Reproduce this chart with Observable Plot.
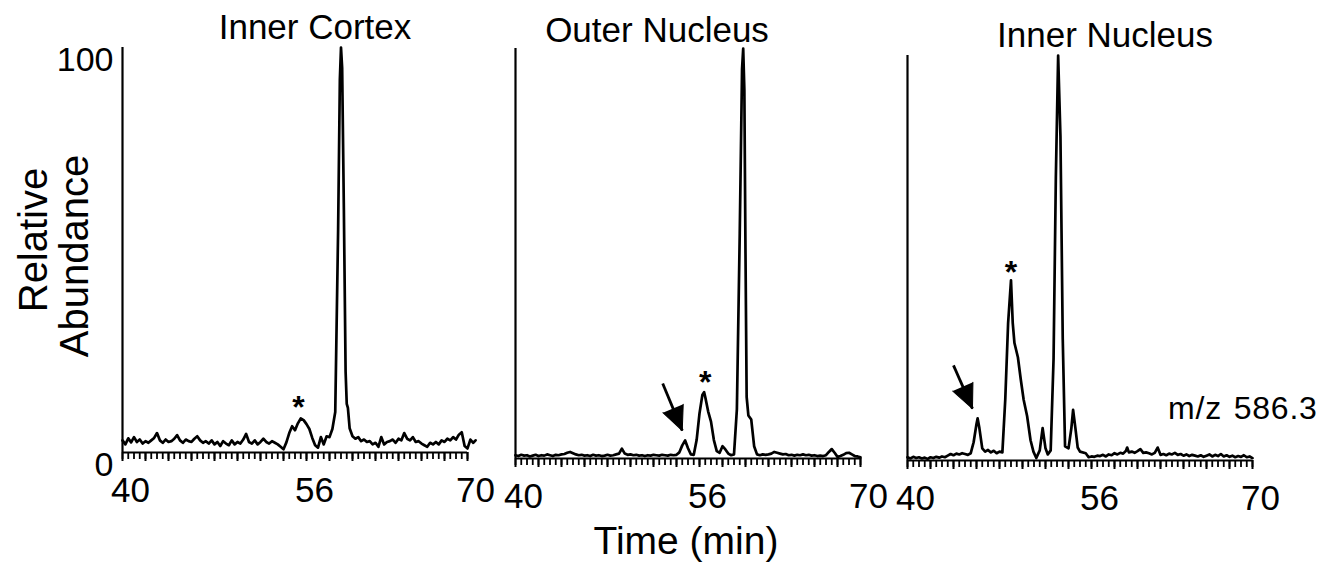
<!DOCTYPE html>
<html><head><meta charset="utf-8">
<script src="https://cdn.jsdelivr.net/npm/d3@7"></script>
<script src="https://cdn.jsdelivr.net/npm/@observablehq/plot@0.6"></script>
<style>
html,body{margin:0;padding:0;background:#fff;}
#wrap{position:relative;width:1340px;height:562px;overflow:hidden;background:#fff;font-family:"Liberation Sans",Arial,sans-serif;color:#000;}
.lbl{position:absolute;white-space:nowrap;line-height:1;}
</style></head><body><div id="wrap"></div>
<script>
// ---------- data ----------
const panelTitles = ["Inner Cortex", "Outer Nucleus", "Inner Nucleus"];
const xTickLabels = [40, 56, 70];
const yTickLabels = [0, 100];
const xAxisTitle = "Time (min)";
const yAxisTitle = ["Relative", "Abundance"];
const massLabel = "m/z 586.3";

const cortexTime = [40,40.25,40.5,40.75,41,41.25,41.5,41.75,42,42.25,42.5,42.75,43,43.25,43.5,43.75,44,44.25,44.5,44.75,45,45.25,45.5,45.75,46,46.25,46.5,46.75,47,47.25,47.5,47.75,48,48.25,48.5,48.75,49,49.25,49.5,49.75,50,50.25,50.5,50.75,51,51.25,51.5,51.75,52,52.25,52.5,52.75,53,53.25,53.5,53.75,54,54.25,54.5,54.75,55,55.25,55.5,55.75,56,56.25,56.5,56.75,57,57.25,57.5,57.75,58,58.25,58.5,58.75,58.9,59,59.1,59.25,59.4,59.5,59.6,59.75,60,60.25,60.5,60.75,61,61.25,61.5,61.75,62,62.25,62.5,62.75,63,63.25,63.5,63.75,64,64.25,64.5,64.75,65,65.25,65.5,65.75,66,66.25,66.5,66.75,67,67.25,67.5,67.75,68,68.25,68.5,68.75,69,69.25,69.5,69.75,70,70.25,70.5,70.7];
const cortexAbund = [3.0,2.0,3.5,2.5,3.8,2.6,3.2,2.2,2.8,2.4,3.0,3.6,4.8,3.0,2.4,3.2,2.6,2.8,3.4,4.3,3.0,2.4,3.2,2.8,2.6,3.4,4.0,3.0,2.4,2.8,2.2,3.0,2.0,2.6,1.6,2.8,2.2,1.8,3.0,2.0,2.6,2.2,3.2,4.6,2.6,2.2,3.0,2.0,2.6,3.4,2.6,2.2,2.8,2.4,2.0,1.4,0.8,2.5,4.8,6.5,5.5,7.2,8.4,8.0,7.0,5.8,3.6,1.8,1.2,3.8,2.0,4.0,3.8,5.8,10,55,92,100,95,60,20,12,11,6,4,3.4,3.8,2.8,3.2,2.6,2.8,2.0,2.4,1.4,3.8,2.0,2.6,2.8,3.2,2.4,3.4,3.0,4.8,3.4,3.0,3.8,2.6,2.8,2.2,1.8,1.4,2.4,2.0,2.6,2.0,3.0,2.6,3.4,3.0,3.8,3.2,4.4,5.0,1.6,1.0,3.2,2.4,3.0];

const outerTime = [40,40.25,40.5,40.75,41,41.25,41.5,41.75,42,42.25,42.5,42.75,43,43.25,43.5,43.75,44,44.25,44.5,44.75,45,45.25,45.5,45.75,46,46.25,46.5,46.75,47,47.25,47.5,47.75,48,48.25,48.5,48.75,49,49.25,49.5,49.75,50,50.25,50.5,50.75,51,51.25,51.5,51.75,52,52.25,52.5,52.75,53,53.25,53.5,53.75,54,54.25,54.5,54.75,55,55.25,55.5,55.75,56,56.25,56.4,56.5,56.75,57,57.25,57.5,57.75,58,58.25,58.5,58.75,59,59.25,59.5,59.7,59.8,59.9,60,60.1,60.25,60.5,60.75,61,61.25,61.5,61.75,62,62.25,62.5,62.75,63,63.25,63.5,63.75,64,64.25,64.5,64.75,65,65.25,65.5,65.75,66,66.25,66.5,66.75,67,67.25,67.5,67.75,68,68.25,68.5,68.75,69,69.25,69.5,69.75,70];
const outerAbund = [0.8,0.6,0.9,0.7,0.8,0.5,0.7,0.9,0.6,0.8,0.7,1.0,0.8,0.6,0.9,0.8,1.0,1.1,1.4,1.6,1.3,1.0,0.8,0.9,0.7,0.8,0.6,0.9,0.7,0.8,0.6,0.7,0.9,0.7,0.8,1.0,1.2,2.4,1.2,0.9,1.0,0.8,0.9,0.7,0.8,0.6,0.8,0.7,0.9,0.8,0.7,0.9,0.8,0.7,0.9,0.8,0.9,1.5,3.2,4.4,2.5,1.0,0.9,4.5,11.0,15.5,16.2,15.0,11.5,9.0,4.5,1.8,1.4,3.0,2.2,1.2,0.8,1.0,12,55,95,100,90,50,15,10.5,9.5,3,1.0,0.8,1.0,0.9,1.0,1.2,1.6,1.4,1.2,1.0,1.1,0.8,0.9,0.7,0.9,0.8,1.0,0.8,0.9,0.7,0.8,0.6,0.7,0.6,0.8,1.6,2.3,1.4,0.4,0.6,0.9,1.3,1.4,1.0,0.6,0.5,0.3];

const innerTime = [40,40.25,40.5,40.75,41,41.25,41.5,41.75,42,42.25,42.5,42.75,43,43.25,43.5,43.75,44,44.25,44.5,44.75,45,45.25,45.5,45.75,46,46.1,46.25,46.5,46.75,47,47.25,47.5,47.75,48,48.25,48.5,48.75,49,49.15,49.3,49.6,49.85,50.1,50.4,50.7,50.95,51.2,51.5,51.75,52,52.2,52.45,52.7,52.9,53.1,53.3,53.5,53.7,54,54.25,54.4,54.6,54.8,55,55.5,55.75,56,56.25,56.5,56.75,57,57.25,57.5,57.75,58,58.25,58.5,58.75,59,59.1,59.25,59.5,59.75,60,60.25,60.5,60.75,61,61.25,61.5,61.75,62,62.25,62.5,62.75,63,63.25,63.5,63.75,64,64.25,64.5,64.75,65,65.25,65.5,65.75,66,66.25,66.5,66.75,67,67.25,67.5,67.75,68,68.25,68.5,68.75,69,69.25,69.5,69.75,70];
const innerAbund = [0.8,0.5,0.9,0.6,0.8,0.5,0.7,0.4,0.8,0.6,0.9,0.7,1.0,0.8,1.2,1.6,1.3,1.7,1.5,1.8,1.6,1.4,1.8,4.5,9.0,10.4,8.0,3.0,2.2,2.6,2.0,2.4,1.8,2.2,2.0,15,34,44.5,34,29,25.5,20,15,11,5,2.2,0.6,2.5,8.0,3.0,1.5,2.5,25,70,100,80,30,3.5,3.0,8,12.5,8,3.2,2.2,1.8,0.8,1.0,0.9,1.2,1.1,1.4,1.0,1.5,1.3,1.8,1.5,1.9,1.7,2.4,3.2,2.0,2.2,1.9,2.3,2.8,1.9,2.0,1.8,1.5,1.9,3.2,1.4,1.6,1.3,1.7,1.5,1.9,1.4,1.6,1.2,1.5,1.1,1.4,1.2,1.0,1.3,0.9,1.2,1.5,1.0,1.4,1.1,1.6,1.0,1.3,0.9,1.2,0.8,1.1,0.9,1.3,0.8,1.0,0.6];

// annotations (data units: time, abundance)
const starTime = [55.3, 56.5, 49.0];
const starAbund = [13.3, 20.7, 48.6];
const arrowFrom = [null, [52.8, 18.3], [44.0, 23.5]];
const arrowTo   = [null, [54.5, 6.8], [45.65, 12.8]];

// ---------- layout ----------
const wrap = document.getElementById("wrap");
const panelLeft = [0, 393, 785];
const panelTop = [47, 48, 55];
const panelBottom = [452, 458, 460];
const series = [[cortexTime, cortexAbund], [outerTime, outerAbund], [innerTime, innerAbund]];
const minorTicks = d3.range(40, 70.001, 0.5);
const longTicks = d3.range(40, 70.001, 2);
const H = 530, W = 480, ML = 122, MR = 13;

series.forEach(([T, V], i) => {
  const data = T.map((t, k) => ({t, v: V[k]}));
  const marks = [
    Plot.axisX(minorTicks, {tickSize: 7, tickFormat: () => "", strokeWidth: 1.8, label: null}),
    Plot.axisX(longTicks, {tickSize: 9, tickFormat: () => "", strokeWidth: 2, label: null}),
    Plot.axisX(xTickLabels, {tickSize: 0, tickPadding: 25, fontSize: 35, dx: 8, label: null}),
    Plot.ruleY([0], {strokeWidth: 2.2}),
    Plot.ruleX([40], {y1: 0, y2: 100, strokeWidth: 2.2}),
    Plot.line(data, {x: "t", y: "v", strokeWidth: 2.7, stroke: "black", strokeLinejoin: "round"}),
    Plot.text([{t: starTime[i], v: starAbund[i]}], {x: "t", y: "v", text: () => "*", fontSize: 32, fontWeight: "bold", dy: 9})
  ];
  if (i === 0) {
    marks.push(Plot.axisY(yTickLabels, {tickSize: 0, tickPadding: 9, fontSize: 34, dy: 13, label: null}));
  } else {
    marks.push(Plot.axisY([], {label: null}));
  }
  if (arrowFrom[i]) {
    const pxPerMin = (W - ML - MR) / 30;
    const pxPerUnit = (panelBottom[i] - panelTop[i]) / 100;
    const dxp = (arrowTo[i][0] - arrowFrom[i][0]) * pxPerMin;
    const dyp = -(arrowTo[i][1] - arrowFrom[i][1]) * pxPerUnit;
    const angle = Math.atan2(dxp, -dyp) * 180 / Math.PI;
    const seg = [{x1: arrowFrom[i][0], y1: arrowFrom[i][1], x2: arrowTo[i][0], y2: arrowTo[i][1]}];
    marks.push(Plot.link(seg, {x1: "x1", y1: "y1", x2: "x2", y2: "y2", stroke: "black", strokeWidth: 2.8}));
    marks.push(Plot.vector(seg, {x: "x2", y: "y2", shape: "spike", anchor: "end", length: 24, r: 11, rotate: angle, fill: "black", stroke: "black", strokeWidth: 1}));
  }
  const svg = Plot.plot({
    width: W, height: H,
    marginLeft: ML, marginRight: MR,
    marginTop: panelTop[i], marginBottom: H - panelBottom[i],
    x: {domain: [40, 70], label: null},
    y: {domain: [0, 100], label: null},
    style: {background: "transparent", overflow: "visible", fontFamily: "'Liberation Sans', Arial, sans-serif", color: "black"},
    marks
  });
  svg.style.position = "absolute";
  svg.style.left = panelLeft[i] + "px";
  svg.style.top = "0px";
  svg.style.maxWidth = "none";
  wrap.appendChild(svg);
});

function addLabel(text, css) {
  const d = document.createElement("div");
  d.className = "lbl";
  d.textContent = text;
  Object.assign(d.style, css);
  wrap.appendChild(d);
  return d;
}
const titleCx = [315, 657, 1105];
const titleTop = [9, 12, 17];
panelTitles.forEach((t, i) => addLabel(t, {left: titleCx[i] + "px", top: titleTop[i] + "px", fontSize: "35px", transform: "translateX(-50%)"}));
addLabel(xAxisTitle, {left: "686px", top: "521px", fontSize: "39px", transform: "translateX(-50%)"});
addLabel(massLabel, {left: "1168px", top: "392px", fontSize: "32px", letterSpacing: "0.8px", wordSpacing: "2px"});
addLabel(yAxisTitle[0], {left: "33px", top: "240px", fontSize: "40px", transform: "translate(-50%,-50%) rotate(-90deg)"});
addLabel(yAxisTitle[1], {left: "74px", top: "256px", fontSize: "40px", transform: "translate(-50%,-50%) rotate(-90deg)"});
</script></body></html>
